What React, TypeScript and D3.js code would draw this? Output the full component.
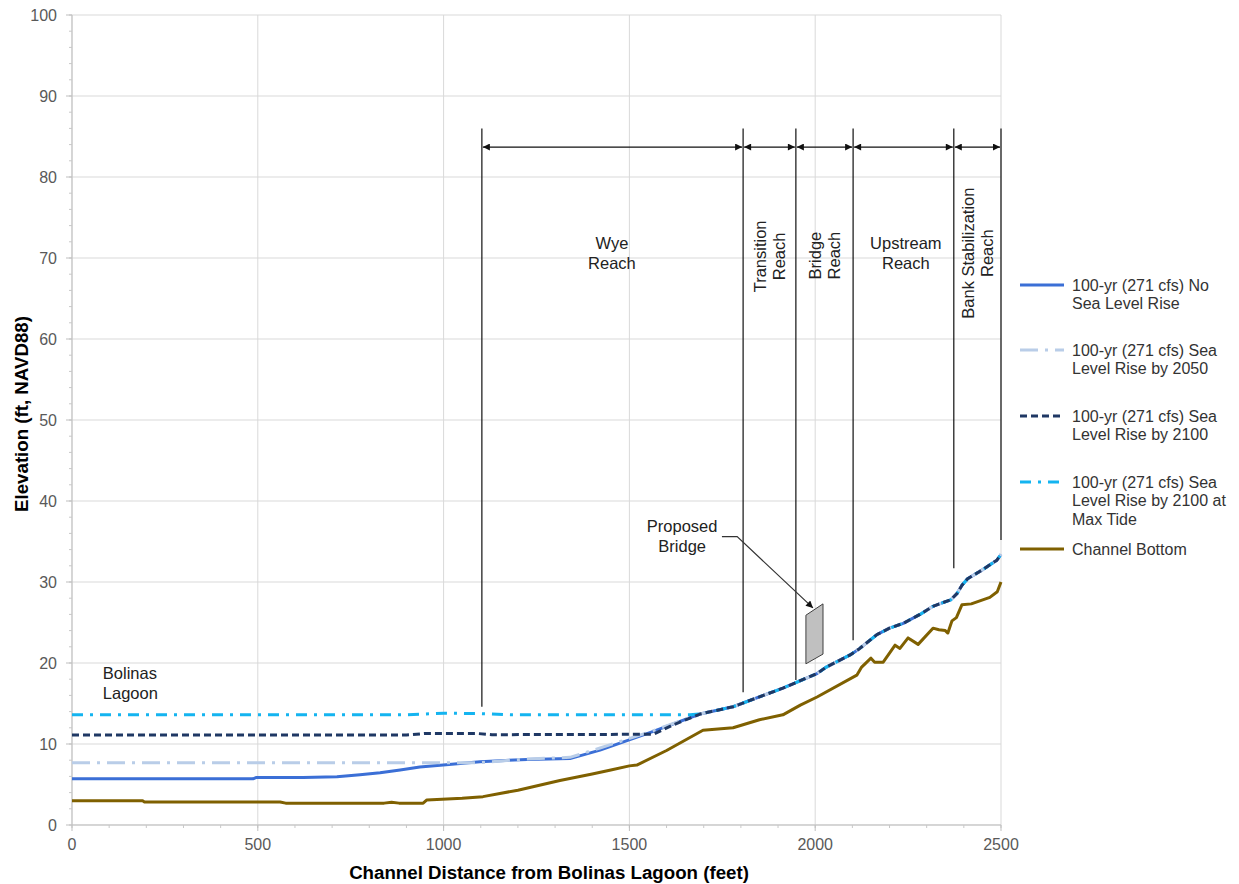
import React from "react";
import * as d3 from "d3";

const W = 1239;
const H = 884;

// ---------- data ----------
const xTicks = [0, 500, 1000, 1500, 2000, 2500];
const yTicks = [0, 10, 20, 30, 40, 50, 60, 70, 80, 90, 100];

const noSLR: [number, number][] = [
  [0, 5.7], [487, 5.7], [495, 5.85], [622, 5.85], [713, 5.95], [775, 6.2], [829, 6.45],
  [883, 6.8], [936, 7.15], [999, 7.4], [1098, 7.8], [1224, 8.1], [1340, 8.2], [1421, 9.25],
  [1555, 11.4], [1690, 13.7], [1779, 14.6], [1913, 16.9], [2005, 18.7], [2030, 19.5],
  [2094, 21.0], [2120, 21.8], [2166, 23.5], [2200, 24.3], [2237, 24.9], [2282, 26.0],
  [2317, 27.0], [2340, 27.4], [2365, 27.8], [2382, 28.6], [2395, 29.6], [2410, 30.4],
  [2450, 31.5], [2489, 32.7], [2500, 33.4],
];

const slr2050: [number, number][] = [
  [0, 7.7], [1100, 7.7], [1180, 8.0], [1224, 8.15], [1340, 8.35], [1421, 9.5],
  [1555, 11.5], [1690, 13.7], [1779, 14.6], [1913, 16.9], [2005, 18.7], [2030, 19.5],
  [2094, 21.0], [2120, 21.8], [2166, 23.5], [2200, 24.3], [2237, 24.9], [2282, 26.0],
  [2317, 27.0], [2340, 27.4], [2365, 27.8], [2382, 28.6], [2395, 29.6], [2410, 30.4],
  [2450, 31.5], [2489, 32.7], [2500, 33.4],
];

const slr2100: [number, number][] = [
  [0, 11.1], [900, 11.1], [950, 11.3], [1090, 11.3], [1130, 11.15], [1564, 11.2],
  [1620, 12.4], [1690, 13.7], [1779, 14.6], [1913, 16.9], [2005, 18.7], [2030, 19.5],
  [2094, 21.0], [2120, 21.8], [2166, 23.5], [2200, 24.3], [2237, 24.9], [2282, 26.0],
  [2317, 27.0], [2340, 27.4], [2365, 27.8], [2382, 28.6], [2395, 29.6], [2410, 30.4],
  [2450, 31.5], [2489, 32.7], [2500, 33.4],
];

const slr2100Max: [number, number][] = [
  [0, 13.6], [900, 13.6], [1000, 13.8], [1100, 13.75], [1180, 13.6], [1663, 13.6],
  [1690, 13.7], [1779, 14.6], [1913, 16.9], [2005, 18.7], [2030, 19.5],
  [2094, 21.0], [2120, 21.8], [2166, 23.5], [2200, 24.3], [2237, 24.9], [2282, 26.0],
  [2317, 27.0], [2340, 27.4], [2365, 27.8], [2382, 28.6], [2395, 29.6], [2410, 30.4],
  [2450, 31.5], [2489, 32.7], [2500, 33.4],
];

const channelBottom: [number, number][] = [
  [0, 3.0], [190, 3.0], [195, 2.85], [560, 2.85], [575, 2.7], [840, 2.7], [860, 2.8],
  [880, 2.7], [945, 2.7], [955, 3.1], [1050, 3.3], [1106, 3.5], [1200, 4.3], [1313, 5.5],
  [1400, 6.3], [1450, 6.8], [1500, 7.3], [1520, 7.4], [1600, 9.2], [1698, 11.7],
  [1779, 12.0], [1850, 13.0], [1913, 13.6], [1960, 14.8], [2005, 15.8], [2112, 18.5],
  [2125, 19.5], [2150, 20.6], [2160, 20.1], [2183, 20.1], [2215, 22.2], [2228, 21.8],
  [2250, 23.1], [2277, 22.3], [2317, 24.3], [2333, 24.1], [2350, 24.0], [2357, 23.7],
  [2368, 25.2], [2380, 25.6], [2395, 27.2], [2420, 27.3], [2470, 28.1], [2490, 28.8],
  [2500, 30.0],
];

const reachBounds = [1103, 1806, 1948, 2102, 2373, 2500];
const reachLineBottoms = [14.6, 16.4, 17.9, 22.8, 31.7, 35.2];
const reachLineTop = 86.0;
const reachArrowY = 83.7;

const reachLabels = [
  { lines: ["Wye", "Reach"], x: 1453, y: 70.6, rotate: false },
  { lines: ["Transition", "Reach"], x: 1878, y: 70.2, rotate: true },
  { lines: ["Bridge", "Reach"], x: 2026, y: 70.3, rotate: true },
  { lines: ["Upstream", "Reach"], x: 2244, y: 70.6, rotate: false },
  { lines: ["Bank Stabilization", "Reach"], x: 2438, y: 70.6, rotate: true },
];

const bridgePoly: [number, number][] = [
  [1975, 25.9], [2021, 27.3], [2021, 21.1], [1975, 19.9],
];
const bridgeLeader: [number, number][] = [
  [1749, 35.6], [1790, 35.6], [1994, 26.8],
];

const legendItems = [
  { lines: ["100-yr (271 cfs) No", "Sea Level Rise"], color: "#3b6fd6", dash: "", width: 3 },
  { lines: ["100-yr (271 cfs) Sea", "Level Rise by 2050"], color: "#b9cde8", dash: "18,7,3,7", width: 3 },
  { lines: ["100-yr (271 cfs) Sea", "Level Rise by 2100"], color: "#1f3864", dash: "7,4", width: 3 },
  { lines: ["100-yr (271 cfs) Sea", "Level Rise by 2100 at", "Max Tide"], color: "#14b4f0", dash: "11,7,3,7", width: 3 },
  { lines: ["Channel Bottom"], color: "#7f6000", dash: "", width: 3 },
];

const FONT = "'Liberation Sans', Arial, sans-serif";

export default function App() {
  const x = d3.scaleLinear().domain([0, 2500]).range([72, 1001]);
  const y = d3.scaleLinear().domain([0, 100]).range([825, 15]);
  const line = d3.line<[number, number]>().x((d) => x(d[0])).y((d) => y(d[1]));

  const xMinor = d3.range(0, 2501, 100);
  const yMinor = d3.range(0, 101, 2);

  const series = [
    { data: channelBottom, ...legendItems[4] },
    { data: noSLR, ...legendItems[0] },
    { data: slr2050, ...legendItems[1] },
    { data: slr2100Max, ...legendItems[3] },
    { data: slr2100, ...legendItems[2] },
  ];

  const legendY = [285, 350, 416, 482, 549];
  const annFs = 16.5;
  const annLh = 19.5;

  return (
    <svg
      width={W}
      height={H}
      style={{ position: "absolute", left: 0, top: 0, background: "#fff" }}
      fontFamily={FONT}
    >
      <defs>
        <marker id="arr" viewBox="0 0 10 10" refX="10" refY="5" markerWidth="9" markerHeight="7" orient="auto-start-reverse" markerUnits="userSpaceOnUse">
          <path d="M0,0 L10,5 L0,10 z" fill="#111" />
        </marker>
      </defs>
      <rect x={0} y={0} width={W} height={H} fill="#fff" />

      {/* gridlines */}
      {yTicks.map((t) => (
        <line key={"gy" + t} x1={x(0)} x2={x(2500)} y1={y(t)} y2={y(t)} stroke="#d9d9d9" strokeWidth={1} />
      ))}
      {xTicks.map((t) => (
        <line key={"gx" + t} x1={x(t)} x2={x(t)} y1={y(0)} y2={y(100)} stroke="#d9d9d9" strokeWidth={1} />
      ))}

      {/* axes */}
      <line x1={x(0)} x2={x(0)} y1={y(0)} y2={y(100)} stroke="#bfbfbf" />
      <line x1={x(0)} x2={x(2500)} y1={y(0)} y2={y(0)} stroke="#bfbfbf" />
      {yMinor.map((t) => (
        <line key={"ym" + t} x1={x(0) - 3} x2={x(0)} y1={y(t)} y2={y(t)} stroke="#c8c8c8" />
      ))}
      {yTicks.map((t) => (
        <line key={"yt" + t} x1={x(0) - 6} x2={x(0)} y1={y(t)} y2={y(t)} stroke="#bfbfbf" />
      ))}
      {xMinor.map((t) => (
        <line key={"xm" + t} x1={x(t)} x2={x(t)} y1={y(0)} y2={y(0) + 3} stroke="#c8c8c8" />
      ))}
      {xTicks.map((t) => (
        <line key={"xt" + t} x1={x(t)} x2={x(t)} y1={y(0)} y2={y(0) + 6} stroke="#bfbfbf" />
      ))}

      {yTicks.map((t) => (
        <text key={"yl" + t} x={x(0) - 15} y={y(t)} dy="0.35em" textAnchor="end" fontSize={16} fill="#595959">
          {t}
        </text>
      ))}
      {xTicks.map((t) => (
        <text key={"xl" + t} x={x(t)} y={y(0) + 19} dy="0.35em" textAnchor="middle" fontSize={16} fill="#595959">
          {t}
        </text>
      ))}

      <text x={549} y={872} dy="0.35em" textAnchor="middle" fontSize={18.7} fontWeight="bold" fill="#000">
        Channel Distance from Bolinas Lagoon (feet)
      </text>
      <text transform={`translate(21,${414}) rotate(-90)`} dy="0.35em" textAnchor="middle" fontSize={18.7} fontWeight="bold" fill="#000">
        Elevation (ft, NAVD88)
      </text>

      {/* reach lines */}
      {reachBounds.map((b, i) => (
        <line key={"rl" + i} x1={x(b)} x2={x(b)} y1={y(reachLineTop)} y2={y(reachLineBottoms[i])} stroke="#111" strokeWidth={1.2} />
      ))}
      {reachBounds.slice(0, -1).map((b, i) => (
        <line
          key={"ra" + i}
          x1={x(b) + 1}
          x2={x(reachBounds[i + 1]) - 1}
          y1={y(reachArrowY)}
          y2={y(reachArrowY)}
          stroke="#111"
          strokeWidth={1.2}
          markerStart="url(#arr)"
          markerEnd="url(#arr)"
        />
      ))}
      {reachLabels.map((r, i) =>
        r.rotate ? (
          <text
            key={"rt" + i}
            transform={`translate(${x(r.x)},${y(r.y)}) rotate(-90)`}
            textAnchor="middle"
            fontSize={annFs}
            fill="#222"
          >
            {r.lines.map((l, j) => (
              <tspan key={j} x={0} y={(j - (r.lines.length - 1) / 2) * annLh} dy="0.35em">
                {l}
              </tspan>
            ))}
          </text>
        ) : (
          <text key={"rt" + i} textAnchor="middle" fontSize={annFs} fill="#222">
            {r.lines.map((l, j) => (
              <tspan key={j} x={x(r.x)} y={y(r.y) + (j - (r.lines.length - 1) / 2) * annLh} dy="0.35em">
                {l}
              </tspan>
            ))}
          </text>
        )
      )}

      {/* bridge */}
      <path d={line(bridgePoly) + "Z"} fill="#c0c0c0" stroke="#404040" strokeWidth={1} />
      <path d={line(bridgeLeader) || ""} fill="none" stroke="#333" strokeWidth={1.2} markerEnd="url(#arr)" />
      <text textAnchor="middle" fontSize={annFs} fill="#222">
        <tspan x={x(1642)} y={y(35.6) - 10} dy="0.35em">Proposed</tspan>
        <tspan x={x(1642)} y={y(35.6) + 10} dy="0.35em">Bridge</tspan>
      </text>
      <text fontSize={annFs} fill="#222">
        <tspan x={x(83)} y={y(17.55) - 10} dy="0.35em">Bolinas</tspan>
        <tspan x={x(83)} y={y(17.55) + 10} dy="0.35em">Lagoon</tspan>
      </text>

      {/* series */}
      {series.map((s, i) => (
        <path
          key={"s" + i}
          d={line(s.data) || ""}
          fill="none"
          stroke={s.color}
          strokeWidth={s.width}
          strokeDasharray={s.dash || undefined}
          strokeLinejoin="round"
        />
      ))}

      {/* legend */}
      {legendItems.map((it, i) => (
        <g key={"lg" + i}>
          <line x1={1020} x2={1064} y1={legendY[i]} y2={legendY[i]} stroke={it.color} strokeWidth={it.width} strokeDasharray={it.dash || undefined} />
          <text fontSize={16} fill="#333">
            {it.lines.map((l, j) => (
              <tspan key={j} x={1072} y={legendY[i] + j * 18.5} dy="0.35em">
                {l}
              </tspan>
            ))}
          </text>
        </g>
      ))}
    </svg>
  );
}
